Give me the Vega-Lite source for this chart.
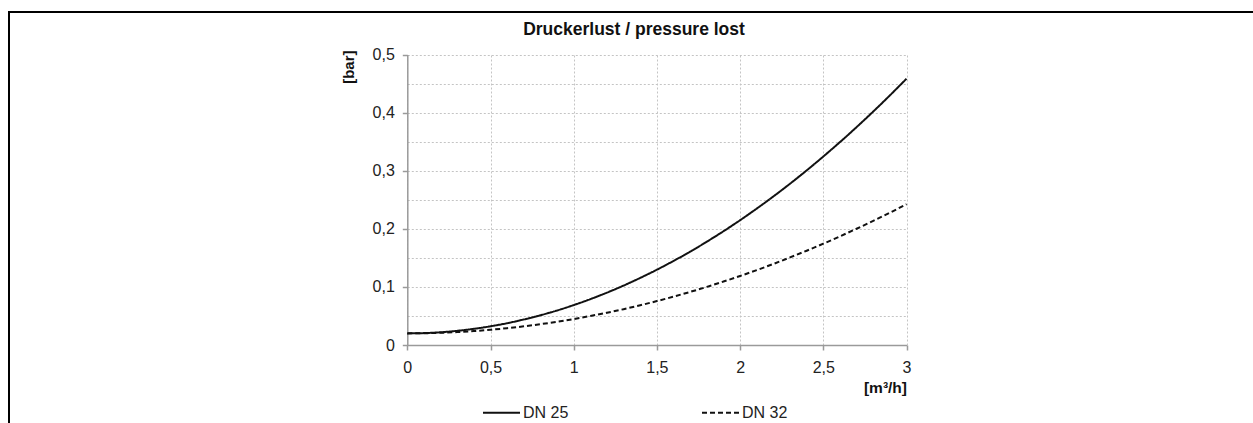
{
  "$schema": "https://vega.github.io/schema/vega-lite/v6.json",
  "width": 1250,
  "height": 420,
  "autosize": {"type": "none"},
  "padding": {"left": 9, "top": 12, "right": 0, "bottom": 0},
  "background": "white",
  "config": {
    "view": {"stroke": "black", "strokeWidth": 2},
    "font": "Liberation Sans"
  },
  "title": {
    "text": "Druckerlust / pressure lost",
    "anchor": "middle",
    "frame": "group",
    "baseline": "top",
    "offset": -26,
    "fontSize": 17.5,
    "fontWeight": "bold",
    "font": "Liberation Sans",
    "color": "#111"
  },
  "data": {
    "values": [
      {"q": 0.0, "dp": 0.0200, "series": "DN 25"},
      {"q": 0.1, "dp": 0.0205, "series": "DN 25"},
      {"q": 0.2, "dp": 0.0219, "series": "DN 25"},
      {"q": 0.3, "dp": 0.0244, "series": "DN 25"},
      {"q": 0.4, "dp": 0.0278, "series": "DN 25"},
      {"q": 0.5, "dp": 0.0322, "series": "DN 25"},
      {"q": 0.6, "dp": 0.0375, "series": "DN 25"},
      {"q": 0.7, "dp": 0.0439, "series": "DN 25"},
      {"q": 0.8, "dp": 0.0512, "series": "DN 25"},
      {"q": 0.9, "dp": 0.0594, "series": "DN 25"},
      {"q": 1.0, "dp": 0.0687, "series": "DN 25"},
      {"q": 1.1, "dp": 0.0789, "series": "DN 25"},
      {"q": 1.2, "dp": 0.0901, "series": "DN 25"},
      {"q": 1.3, "dp": 0.1023, "series": "DN 25"},
      {"q": 1.4, "dp": 0.1155, "series": "DN 25"},
      {"q": 1.5, "dp": 0.1296, "series": "DN 25"},
      {"q": 1.6, "dp": 0.1447, "series": "DN 25"},
      {"q": 1.7, "dp": 0.1607, "series": "DN 25"},
      {"q": 1.8, "dp": 0.1778, "series": "DN 25"},
      {"q": 1.9, "dp": 0.1958, "series": "DN 25"},
      {"q": 2.0, "dp": 0.2148, "series": "DN 25"},
      {"q": 2.1, "dp": 0.2348, "series": "DN 25"},
      {"q": 2.2, "dp": 0.2557, "series": "DN 25"},
      {"q": 2.3, "dp": 0.2776, "series": "DN 25"},
      {"q": 2.4, "dp": 0.3005, "series": "DN 25"},
      {"q": 2.5, "dp": 0.3244, "series": "DN 25"},
      {"q": 2.6, "dp": 0.3492, "series": "DN 25"},
      {"q": 2.7, "dp": 0.3750, "series": "DN 25"},
      {"q": 2.8, "dp": 0.4018, "series": "DN 25"},
      {"q": 2.9, "dp": 0.4296, "series": "DN 25"},
      {"q": 3.0, "dp": 0.4583, "series": "DN 25"},
      {"q": 0.0, "dp": 0.0200, "series": "DN 32"},
      {"q": 0.1, "dp": 0.0202, "series": "DN 32"},
      {"q": 0.2, "dp": 0.0210, "series": "DN 32"},
      {"q": 0.3, "dp": 0.0222, "series": "DN 32"},
      {"q": 0.4, "dp": 0.0240, "series": "DN 32"},
      {"q": 0.5, "dp": 0.0262, "series": "DN 32"},
      {"q": 0.6, "dp": 0.0289, "series": "DN 32"},
      {"q": 0.7, "dp": 0.0321, "series": "DN 32"},
      {"q": 0.8, "dp": 0.0358, "series": "DN 32"},
      {"q": 0.9, "dp": 0.0400, "series": "DN 32"},
      {"q": 1.0, "dp": 0.0447, "series": "DN 32"},
      {"q": 1.1, "dp": 0.0499, "series": "DN 32"},
      {"q": 1.2, "dp": 0.0556, "series": "DN 32"},
      {"q": 1.3, "dp": 0.0617, "series": "DN 32"},
      {"q": 1.4, "dp": 0.0684, "series": "DN 32"},
      {"q": 1.5, "dp": 0.0756, "series": "DN 32"},
      {"q": 1.6, "dp": 0.0832, "series": "DN 32"},
      {"q": 1.7, "dp": 0.0914, "series": "DN 32"},
      {"q": 1.8, "dp": 0.1000, "series": "DN 32"},
      {"q": 1.9, "dp": 0.1092, "series": "DN 32"},
      {"q": 2.0, "dp": 0.1188, "series": "DN 32"},
      {"q": 2.1, "dp": 0.1289, "series": "DN 32"},
      {"q": 2.2, "dp": 0.1395, "series": "DN 32"},
      {"q": 2.3, "dp": 0.1507, "series": "DN 32"},
      {"q": 2.4, "dp": 0.1623, "series": "DN 32"},
      {"q": 2.5, "dp": 0.1744, "series": "DN 32"},
      {"q": 2.6, "dp": 0.1870, "series": "DN 32"},
      {"q": 2.7, "dp": 0.2001, "series": "DN 32"},
      {"q": 2.8, "dp": 0.2136, "series": "DN 32"},
      {"q": 2.9, "dp": 0.2277, "series": "DN 32"},
      {"q": 3.0, "dp": 0.2423, "series": "DN 32"}
    ]
  },
  "resolve": {"axis": {"x": "independent"}},
  "layer": [
    {
      "mark": {"type": "line", "opacity": 0},
      "encoding": {
        "x": {
          "field": "q",
          "type": "quantitative",
          "scale": {"domain": [0, 3], "range": [398.3, 897.5], "nice": false, "zero": false},
          "axis": {
            "orient": "top",
            "values": [0, 0.5, 1, 1.5, 2, 2.5, 3],
            "grid": true,
            "gridColor": "#c4c4c4",
            "gridDash": [2, 2],
            "gridWidth": 1,
            "domain": false,
            "ticks": false,
            "labels": false,
            "title": null
          }
        },
        "y": {
          "field": "dp",
          "type": "quantitative",
          "scale": {"domain": [0, 0.5], "range": [333, 42.5], "nice": false}
        },
        "detail": {"field": "series", "type": "nominal"}
      }
    },
    {
      "mark": {"type": "line", "color": "#111", "strokeWidth": 2, "interpolate": "monotone"},
      "encoding": {
        "x": {
          "field": "q",
          "type": "quantitative",
          "axis": {
            "orient": "bottom",
            "grid": false,
            "values": [0, 0.5, 1, 1.5, 2, 2.5, 3],
            "labelExpr": "replace(format(datum.value, '.1~f'), '.', ',')",
            "labelFlush": false,
            "labelOverlap": false,
            "offset": -87,
            "domainColor": "#9a9a9a",
            "domainWidth": 1.5,
            "tickColor": "#9a9a9a",
            "tickWidth": 1.5,
            "tickSize": 5,
            "labelPadding": 9,
            "labelFontSize": 16,
            "labelColor": "#222",
            "labelFont": "Liberation Sans",
            "title": "[m³/h]",
            "titleAnchor": "end",
            "titleFont": "Liberation Sans",
            "titleFontSize": 15.5,
            "titleFontWeight": "bold",
            "titleColor": "#111",
            "titlePadding": 5
          }
        },
        "y": {
          "field": "dp",
          "type": "quantitative",
          "axis": {
            "values": [0, 0.05, 0.1, 0.15, 0.2, 0.25, 0.3, 0.35, 0.4, 0.45, 0.5],
            "labelExpr": "abs(datum.value * 10 - round(datum.value * 10)) < 0.001 ? (datum.value == 0 ? '0' : replace(format(datum.value, '.1f'), '.', ',')) : ''",
            "labelOverlap": false,
            "labelFlush": false,
            "tickOpacity": {"condition": {"test": "abs(datum.value * 10 - round(datum.value * 10)) < 0.001", "value": 1}, "value": 0},
            "offset": -398.3,
            "domainColor": "#9a9a9a",
            "domainWidth": 1.5,
            "tickColor": "#9a9a9a",
            "tickWidth": 1.5,
            "tickSize": 5,
            "labelPadding": 8,
            "labelFontSize": 16,
            "labelColor": "#222",
            "labelFont": "Liberation Sans",
            "grid": true,
            "gridColor": "#c4c4c4",
            "gridDash": [2, 2],
            "gridWidth": 1,
            "title": "[bar]",
            "titleAnchor": "end",
            "titleY": 38,
            "titleFont": "Liberation Sans",
            "titleFontSize": 15,
            "titleFontWeight": "bold",
            "titleColor": "#111",
            "titlePadding": 16
          }
        },
        "strokeDash": {
          "field": "series",
          "type": "nominal",
          "scale": {"domain": ["DN 25", "DN 32"], "range": [[1, 0], [5, 3]]},
          "legend": {
            "orient": "none",
            "legendX": 473,
            "legendY": 381,
            "direction": "horizontal",
            "title": null,
            "symbolType": "stroke",
            "symbolSize": 1369,
            "symbolStrokeWidth": 2,
            "symbolStrokeColor": "#111",
            "labelFontSize": 16,
            "labelFont": "Liberation Sans",
            "labelColor": "#222",
            "labelOffset": 2,
            "columnPadding": 129,
            "padding": 0
          }
        }
      }
    }
  ]
}
